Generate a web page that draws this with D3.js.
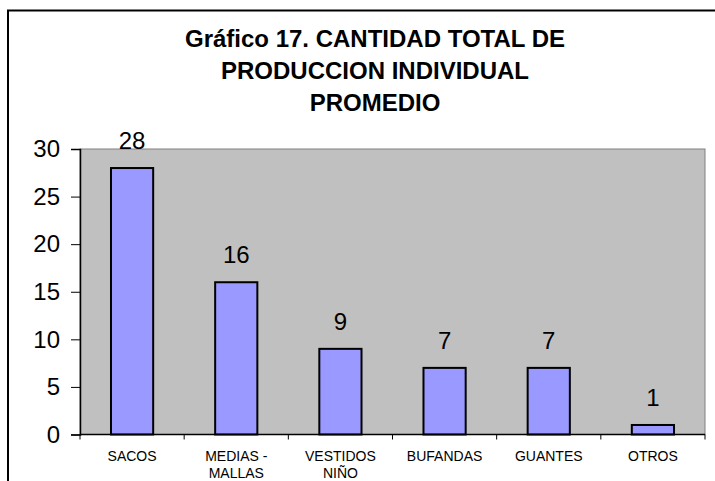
<!DOCTYPE html>
<html><head><meta charset="utf-8">
<script src="https://cdn.jsdelivr.net/npm/d3@7"></script>
<style>body{margin:0;background:#fff}svg{display:block}</style>
</head><body>
<svg id="c" width="715" height="481"></svg>
<script>
const categories = [["SACOS"], ["MEDIAS -", "MALLAS"], ["VESTIDOS", "NIÑO"], ["BUFANDAS"], ["GUANTES"], ["OTROS"]];
const values = [28, 16, 9, 7, 7, 1];
const yTicks = [0, 5, 10, 15, 20, 25, 30];
const titleLines = ["Gráfico 17. CANTIDAD TOTAL DE", "PRODUCCION INDIVIDUAL", "PROMEDIO"];

const svg = d3.select("#c");
const font = "Arial, 'Liberation Sans', sans-serif";
const L = 80, R = 705, T = 149, B = 434.5;

// outer border
svg.append("rect").attr("x", 8).attr("y", 10.5).attr("width", 720).attr("height", 480)
  .attr("fill", "none").attr("stroke", "#000").attr("stroke-width", 2);

const x = d3.scaleBand().domain(d3.range(values.length)).range([L, R]).paddingInner(0).paddingOuter(0);
const y = d3.scaleLinear().domain([0, 30]).range([B, T]);

svg.append("rect").attr("x", L).attr("y", T).attr("width", R - L).attr("height", B - T)
  .attr("fill", "#C0C0C0").attr("stroke", "#808080").attr("stroke-width", 1);

// title
svg.append("text").attr("text-anchor", "middle")
  .attr("font-family", font).attr("font-weight", "bold").attr("font-size", 24).attr("fill", "#000")
  .selectAll("tspan").data(titleLines).join("tspan")
  .attr("x", 375).attr("y", (d, i) => 47 + i * 32).text(d => d);

// bars
const bw = x.bandwidth() * 0.405;
svg.selectAll(".bar").data(values).join("rect")
  .attr("x", (d, i) => x(i) + x.bandwidth() / 2 - bw / 2)
  .attr("y", d => y(d)).attr("width", bw).attr("height", d => y(0) - y(d))
  .attr("fill", "#9999FF").attr("stroke", "#000").attr("stroke-width", 2);

// value labels
svg.selectAll(".vl").data(values).join("text")
  .attr("x", (d, i) => x(i) + x.bandwidth() / 2).attr("y", d => y(d) - 19)
  .attr("text-anchor", "middle").attr("font-family", font).attr("font-size", 24).attr("fill", "#000")
  .text(d => d);

// y axis
const yAxis = svg.append("g").attr("transform", `translate(${L},0)`)
  .call(d3.axisLeft(y).tickValues(yTicks).tickSize(9).tickPadding(11));
yAxis.select(".domain").attr("stroke", "#000").attr("stroke-width", 1.5);
yAxis.selectAll("line").attr("stroke", "#000");
yAxis.selectAll("text").attr("font-family", font).attr("font-size", 24).attr("fill", "#000");

// x axis
const xAxis = svg.append("g").attr("transform", `translate(0,${B})`);
xAxis.append("line").attr("x1", L).attr("x2", R).attr("y1", 0).attr("y2", 0).attr("stroke", "#000").attr("stroke-width", 1.5);
xAxis.selectAll(".tk").data(d3.range(values.length + 1)).join("line")
  .attr("x1", i => i < values.length ? x(i) : R).attr("x2", i => i < values.length ? x(i) : R)
  .attr("y1", 0).attr("y2", 5).attr("stroke", "#000");
xAxis.selectAll(".cl").data(categories).join("text")
  .attr("text-anchor", "middle").attr("font-family", font).attr("font-size", 14).attr("fill", "#000")
  .each(function(d, i) {
    d3.select(this).selectAll("tspan").data(d).join("tspan")
      .attr("x", x(i) + x.bandwidth() / 2).attr("y", (t, j) => 26.5 + j * 17).text(t => t);
  });
</script>
</body></html>
